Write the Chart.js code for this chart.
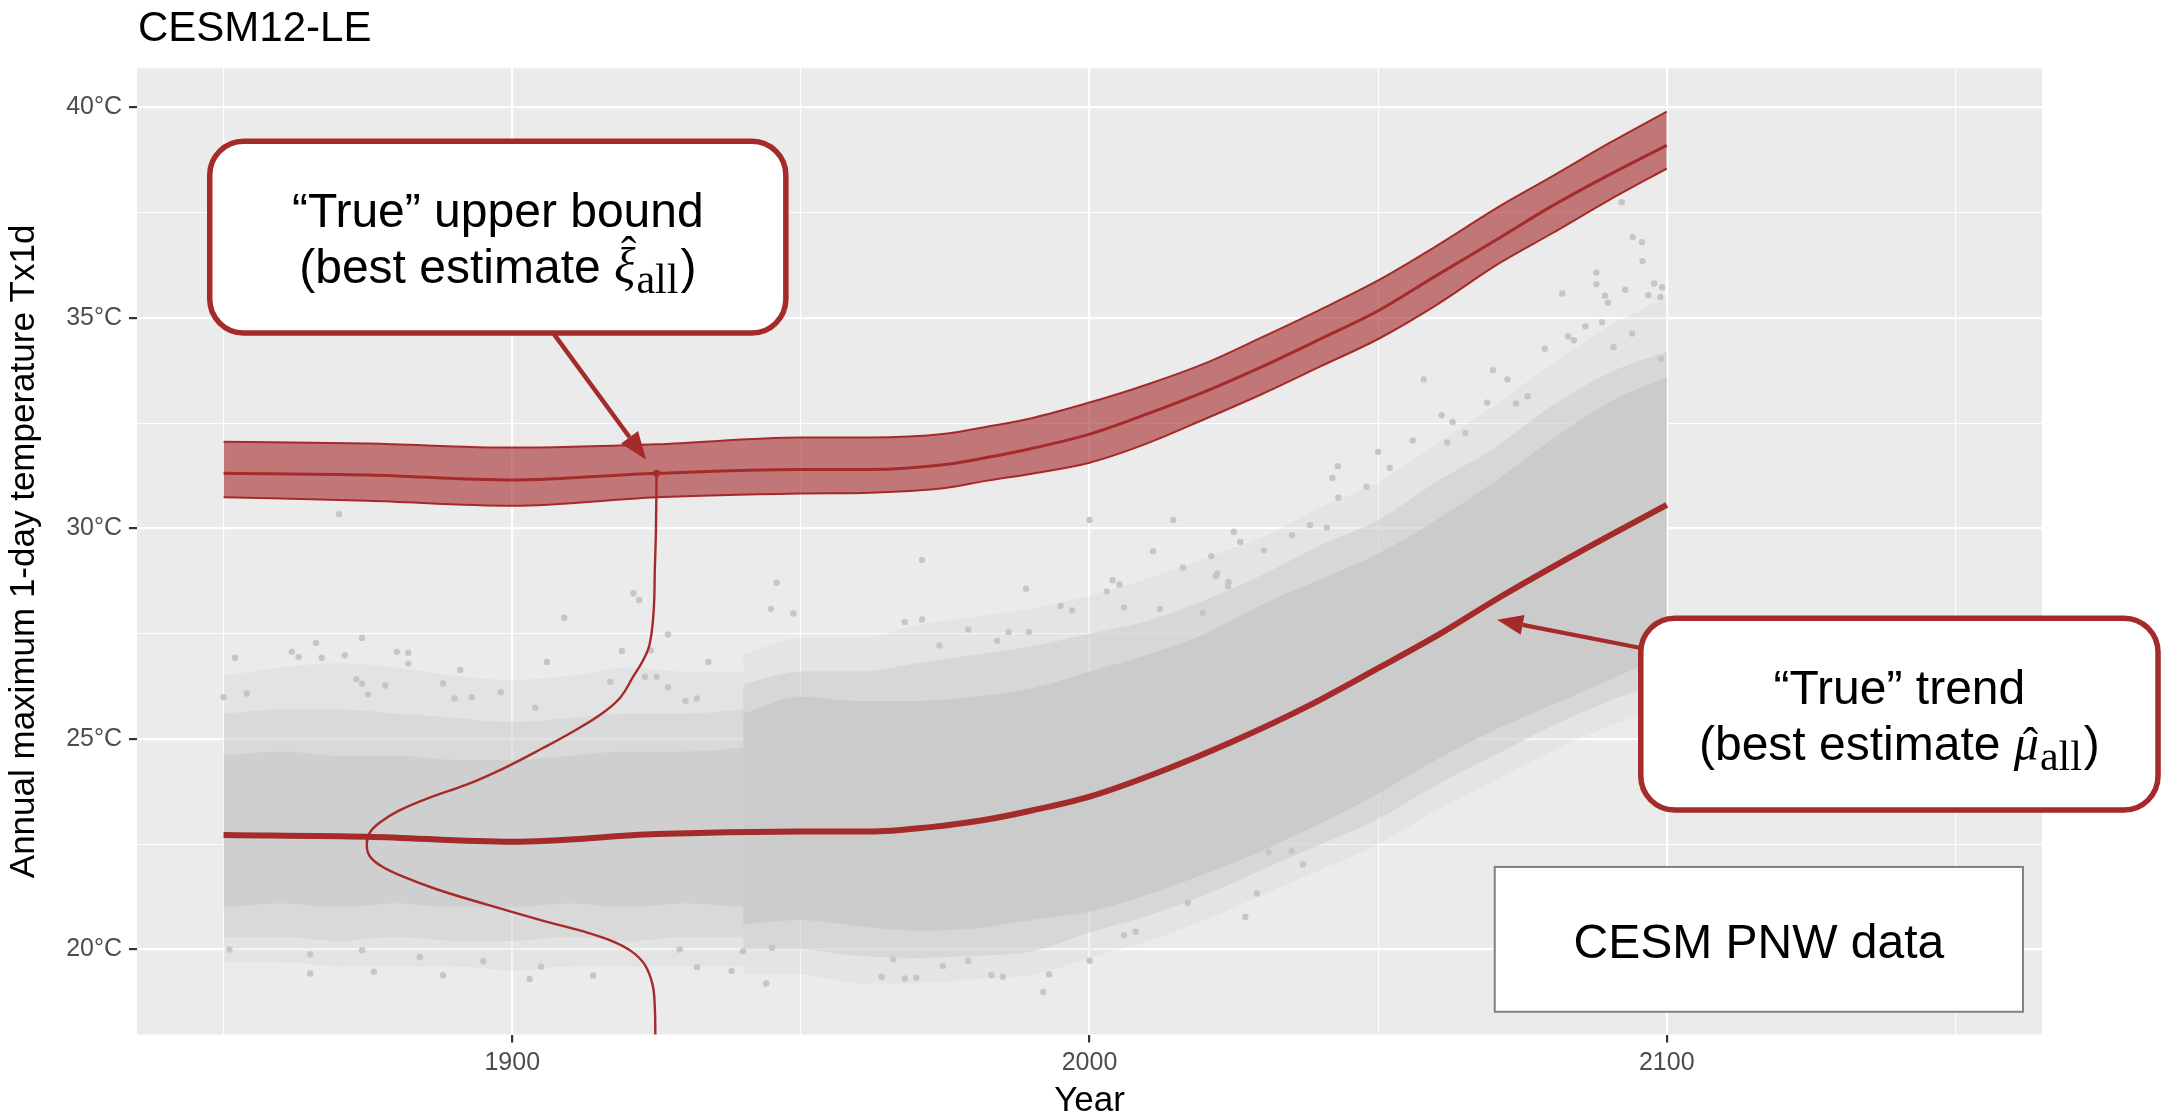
<!DOCTYPE html>
<html>
<head>
<meta charset="utf-8">
<script src="https://cdn.jsdelivr.net/npm/chart.js@4.4.1/dist/chart.umd.min.js"></script>
<style>
html, body { margin: 0; padding: 0; background: #ffffff; }
canvas { display: block; }
</style>
</head>
<body>
<canvas id="chart" width="2162" height="1116"></canvas>
<script>
// ---------------- data ----------------
const chartTitle = 'CESM12-LE';
const xAxisTitle = 'Year';
const yAxisTitle = 'Annual maximum 1-day temperature Tx1d';

const xTickValues = [1850, 1900, 1950, 2000, 2050, 2100, 2150];
const xTickLabels = ['', '1900', '', '2000', '', '2100', ''];
const yTickValues = [20, 22.5, 25, 27.5, 30, 32.5, 35, 37.5, 40];
const yTickLabels = ['20°C', '', '25°C', '', '30°C', '', '35°C', '', '40°C'];

// "True" upper bound (xi_all) with its uncertainty band
const boundYears  = [1850, 1875, 1900, 1925, 1950, 1962, 1975, 1982, 1990, 2000, 2010, 2020, 2030, 2040, 2050, 2060, 2071, 2080, 2090, 2100];
const boundCenter = [31.31, 31.27, 31.15, 31.31, 31.40, 31.40, 31.52, 31.68, 31.90, 32.24, 32.72, 33.25, 33.85, 34.50, 35.17, 36.00, 36.90, 37.65, 38.40, 39.10];
const boundLow    = [30.74, 30.66, 30.54, 30.74, 30.83, 30.85, 30.96, 31.13, 31.30, 31.56, 32.02, 32.60, 33.20, 33.85, 34.50, 35.30, 36.30, 37.00, 37.80, 38.55];
const boundHigh   = [32.06, 32.02, 31.92, 32.00, 32.16, 32.16, 32.25, 32.41, 32.62, 32.99, 33.42, 33.92, 34.55, 35.20, 35.89, 36.70, 37.65, 38.35, 39.15, 39.90];

// "True" trend (mu_all)
const trendYears  = [1850, 1875, 1900, 1925, 1950, 1962, 1972, 1982, 1990, 2000, 2012, 2025, 2038, 2050, 2061, 2071, 2085, 2100];
const trendValues = [22.72, 22.68, 22.56, 22.74, 22.80, 22.80, 22.90, 23.08, 23.30, 23.63, 24.21, 24.95, 25.79, 26.68, 27.52, 28.36, 29.45, 30.56];

// sideways density curve drawn at 1925
const densityYears = [1925.0, 1924.9, 1924.7, 1924.5, 1923.8, 1922.6, 1921.0, 1918.7, 1915.3, 1910.7, 1905.4, 1898.8, 1892.2, 1885.6, 1880.3, 1877.0, 1875.3, 1874.8, 1875.3, 1877.3, 1880.9, 1886.9, 1895.5, 1905.4, 1912.0, 1917.3, 1920.6, 1922.9, 1924.3, 1924.7, 1924.8];
const densityTemps = [31.31, 30.00, 29.00, 28.04, 27.25, 26.85, 26.49, 25.98, 25.58, 25.19, 24.79, 24.32, 23.92, 23.60, 23.29, 23.01, 22.77, 22.50, 22.22, 21.98, 21.74, 21.43, 21.07, 20.68, 20.44, 20.20, 19.96, 19.65, 19.17, 18.62, 17.90];

// CESM PNW data cloud: envelopes of the sparse (1850-1940) and dense (1940-2100) parts
const earlyYears      = [1850, 1860, 1870, 1880, 1890, 1900, 1910, 1920, 1930, 1940];
const earlyCoreLow    = [21.0, 21.1, 21.0, 21.1, 21.0, 21.0, 21.1, 21.0, 21.1, 21.0];
const earlyCoreHigh   = [24.6, 24.7, 24.6, 24.6, 24.5, 24.5, 24.6, 24.7, 24.7, 24.8];
const earlyFringeLow  = [20.3, 20.3, 20.2, 20.3, 20.2, 20.2, 20.3, 20.2, 20.3, 20.3];
const earlyFringeHigh = [25.6, 25.7, 25.7, 25.6, 25.5, 25.4, 25.5, 25.6, 25.6, 25.7];
const earlyOuterLow   = [19.7, 19.7, 19.6, 19.6, 19.6, 19.5, 19.6, 19.6, 19.6, 19.6];
const earlyOuterHigh  = [26.5, 26.7, 26.8, 26.7, 26.5, 26.4, 26.5, 26.7, 26.6, 26.6];

const mainYears      = [1940, 1950, 1960, 1970, 1980, 1990, 2000, 2010, 2020, 2030, 2040, 2050, 2060, 2070, 2080, 2090, 2100];
const mainCoreLow    = [20.6, 20.7, 20.55, 20.45, 20.5, 20.7, 20.9, 21.3, 21.8, 22.35, 23.0, 23.7, 24.5, 25.2, 25.8, 26.4, 27.0];
const mainCoreHigh   = [25.6, 26.0, 25.9, 25.9, 26.0, 26.2, 26.6, 27.0, 27.5, 28.2, 28.8, 29.4, 30.2, 31.1, 32.1, 33.0, 33.6];
const mainFringeLow  = [20.0, 20.0, 19.85, 19.8, 19.85, 19.95, 20.4, 20.8, 21.3, 21.9, 22.5, 23.1, 23.9, 24.6, 25.3, 25.9, 26.4];
const mainFringeHigh = [26.3, 26.6, 26.6, 26.8, 27.0, 27.2, 27.5, 27.8, 28.3, 28.9, 29.6, 30.2, 31.1, 31.9, 32.9, 33.7, 34.2];
const mainOuterLow   = [19.4, 19.4, 19.2, 19.2, 19.3, 19.4, 19.8, 20.2, 20.7, 21.3, 21.9, 22.5, 23.3, 24.0, 24.7, 25.3, 25.8];
const mainOuterHigh  = [27.0, 27.4, 27.4, 27.7, 27.9, 28.1, 28.4, 28.8, 29.3, 29.8, 30.5, 31.1, 32.0, 32.9, 33.9, 34.8, 35.5];

// individual outlying data points [year, temperature]
const scatterPoints = [
  [1852, 26.93], [1861.8, 27.07], [1863, 26.95], [1866, 27.28], [1867, 26.93], [1871, 26.99], [1874, 27.4], [1880, 27.07],
  [1882, 27.05], [1882, 26.79], [1891, 26.64], [1906, 26.83], [1909, 27.88], [1921, 28.46], [1922, 28.3], [1919, 27.09],
  [1927, 27.48], [1924, 27.1], [1934, 26.83], [1873, 26.42], [1874, 26.31], [1878, 26.27], [1875, 26.06], [1854, 26.08],
  [1850, 25.99], [1888, 26.32], [1890, 25.96], [1893, 25.99], [1898, 26.11], [1904, 25.74], [1917, 26.36], [1923, 26.48],
  [1925, 26.48], [1927, 26.23], [1932, 25.96], [1930, 25.9], [1870, 30.34],
  [1851, 20.0], [1865, 19.88], [1865, 19.43], [1876, 19.47], [1888, 19.39], [1895, 19.72], [1903, 19.3], [1905, 19.59],
  [1914, 19.38], [1932, 19.58], [1938, 19.49], [1884, 19.82], [1874, 19.98], [1929, 20.0],
  [1944.8, 28.09], [1945.8, 28.71], [1948.7, 27.98], [1944, 19.19], [1940, 19.96], [1945, 20.04],
  [1968, 27.78], [1971, 27.84], [1979, 27.6], [1989, 28.57], [1986, 27.54], [1989.5, 27.54], [1984, 27.33], [1974, 27.22],
  [1995, 28.16], [1997, 28.05], [2004, 28.77], [2003, 28.5], [2005.2, 28.67], [2016.2, 29.07], [2012.2, 28.09], [2006, 28.12],
  [2021.9, 28.87], [2024, 28.63], [2019.6, 28.0], [1971, 29.25], [2000, 30.2], [2014.5, 30.2], [2011, 29.46],
  [1964, 19.35], [1968, 19.31], [1970, 19.33], [1983, 19.39], [1985, 19.35], [1992, 18.99], [1993, 19.41], [2000, 19.73],
  [1979, 19.73], [1974.6, 19.61], [1966, 19.76], [2006, 20.34], [2008, 20.42], [2017, 21.11], [2027, 20.77], [2029, 21.33],
  [2037, 22.02], [2035, 22.34], [2031, 22.31],
  [2021.1, 29.34], [2025, 29.92], [2026.1, 29.68], [2030.2, 29.48], [2022.1, 28.93], [2024.1, 28.73], [2035.1, 29.84],
  [2038.2, 30.08], [2041.1, 30.02], [2042.1, 31.2], [2043, 31.48], [2043.1, 30.73], [2048, 30.99], [2050, 31.82], [2052, 31.44],
  [2056, 32.09], [2057.9, 33.54], [2062, 32.04], [2061, 32.69], [2062.9, 32.53], [2065.1, 32.27], [2068.9, 32.99], [2069.9, 33.76],
  [2072.4, 33.54], [2073.9, 32.97], [2075.9, 33.14], [2078.9, 34.27], [2081.9, 35.58], [2082.9, 34.56], [2083.9, 34.47],
  [2085.9, 34.8], [2087.8, 36.08], [2087.8, 35.8], [2088.8, 34.9], [2089.8, 35.36], [2090.8, 34.31], [2092.8, 35.67], [2094, 34.63],
  [2095.7, 36.8], [2095.8, 36.35], [2096.8, 35.54], [2097.8, 35.82], [2098.9, 35.5], [2099, 34.03], [2092.2, 37.75],
  [2094.1, 36.92], [2089.3, 35.53], [2099.2, 35.73]
];

// annotation texts
const boundLabel = ['“True” upper bound', '(best estimate ', 'ξ'];
const trendLabel = ['“True” trend', '(best estimate ', 'μ'];
const dataLabel = 'CESM PNW data';

// ---------------- styling / layout ----------------
const RED = '#A52A2A';
const SANS = '"Liberation Sans", Arial, Helvetica, sans-serif';
const SERIF = '"Liberation Serif", "Times New Roman", serif';
Chart.defaults.font.family = SANS;

// annotation geometry in data units (year, °C)
const notes = {
  bound: { x0: 1847.6, x1: 1947.4, yTop: 39.2, yBot: 34.64, from: [1907.1, 34.64], to: [1923.2, 31.63] },
  trend: { x0: 2095.5, x1: 2185.1, yTop: 27.87, yBot: 23.31, from: [2095.5, 27.16], to: [2070.6, 27.83] },
  data:  { x0: 2070.2, x1: 2161.7, yTop: 21.96, yBot: 18.52 }
};

const pts = (xs, ys) => xs.map((x, i) => ({ x: x, y: ys[i] }));
const isLabelled = (values, labels, v) => { const i = values.indexOf(v); return i >= 0 && labels[i] !== ''; };

function band(data, order, extra) {
  return Object.assign({
    type: 'line', data: data, order: order, pointRadius: 0, borderWidth: 0,
    borderColor: 'rgba(0,0,0,0)', fill: false, cubicInterpolationMode: 'monotone'
  }, extra || {});
}

const GREY = 'rgba(202,202,202,';
const datasets = [
  band(pts(earlyYears, earlyOuterLow), 120),                                              // 0
  band(pts(earlyYears, earlyOuterHigh), 119, { fill: 0, backgroundColor: GREY + '0.22)' }), // 1
  band(pts(earlyYears, earlyFringeLow), 118),                                             // 2
  band(pts(earlyYears, earlyFringeHigh), 117, { fill: 2, backgroundColor: GREY + '0.42)' }),// 3
  band(pts(earlyYears, earlyCoreLow), 116),                                               // 4
  band(pts(earlyYears, earlyCoreHigh), 115, { fill: 4, backgroundColor: GREY + '0.68)' }),  // 5
  band(pts(mainYears, mainOuterLow), 114),                                                // 6
  band(pts(mainYears, mainOuterHigh), 113, { fill: 6, backgroundColor: GREY + '0.2)' }),    // 7
  band(pts(mainYears, mainFringeLow), 112),                                               // 8
  band(pts(mainYears, mainFringeHigh), 111, { fill: 8, backgroundColor: GREY + '0.5)' }),   // 9
  band(pts(mainYears, mainCoreLow), 110),                                                 // 10
  band(pts(mainYears, mainCoreHigh), 109, { fill: 10, backgroundColor: '#CBCBCB' }),       // 11
  { type: 'line', order: 90, data: scatterPoints.map(p => ({ x: p[0], y: p[1] })), showLine: false,  // 12
    pointRadius: 3.2, pointBackgroundColor: '#C6C6C6', pointBorderWidth: 0, borderWidth: 0 },
  band(pts(boundYears, boundLow), 80, { borderColor: RED, borderWidth: 2 }),                         // 13
  band(pts(boundYears, boundHigh), 79, { borderColor: RED, borderWidth: 2, fill: 13,                  // 14
    backgroundColor: 'rgba(165,42,42,0.6)' }),
  band(pts(boundYears, boundCenter), 78, { borderColor: RED, borderWidth: 3 }),                      // 15
  { type: 'line', order: 70, data: pts(densityYears, densityTemps), borderColor: RED, borderWidth: 2.4, // 16
    tension: 0.4, fill: false, clip: 0,
    pointRadius: c => (c.dataIndex === 0 ? 3.5 : 0), pointBackgroundColor: RED, pointBorderWidth: 0 },
  band(pts(trendYears, trendValues), 60, { borderColor: RED, borderWidth: 6 })                       // 17
];

// ---------------- drawing helpers for title and annotations ----------------
function roundRectPath(ctx, x, y, w, h, r) {
  ctx.beginPath();
  ctx.moveTo(x + r, y);
  ctx.arcTo(x + w, y, x + w, y + h, r);
  ctx.arcTo(x + w, y + h, x, y + h, r);
  ctx.arcTo(x, y + h, x, y, r);
  ctx.arcTo(x, y, x + w, y, r);
  ctx.closePath();
}

function arrow(ctx, x1, y1, x2, y2, color, lw, headLen, headHalf) {
  const ang = Math.atan2(y2 - y1, x2 - x1);
  const bx = x2 - Math.cos(ang) * headLen, by = y2 - Math.sin(ang) * headLen;
  ctx.strokeStyle = color; ctx.lineWidth = lw; ctx.lineCap = 'butt';
  ctx.beginPath(); ctx.moveTo(x1, y1); ctx.lineTo(bx, by); ctx.stroke();
  ctx.fillStyle = color;
  ctx.beginPath();
  ctx.moveTo(x2, y2);
  ctx.lineTo(bx + Math.sin(ang) * headHalf, by - Math.cos(ang) * headHalf);
  ctx.lineTo(bx - Math.sin(ang) * headHalf, by + Math.cos(ang) * headHalf);
  ctx.closePath(); ctx.fill();
}

function mathLine(ctx, cx, baseline, prefix, sym, hatLift) {
  const fSans = '48px ' + SANS;
  const fSym = 'italic 50px ' + SERIF;
  const fSub = '42px ' + SERIF;
  ctx.font = fSans; const w1 = ctx.measureText(prefix).width; const w4 = ctx.measureText(')').width;
  ctx.font = fSym; const w2 = ctx.measureText(sym).width;
  ctx.font = fSub; const w3 = ctx.measureText('all').width;
  const total = w1 + w2 + 1 + w3 + 2 + w4;
  let x = cx - total / 2;
  ctx.textAlign = 'left'; ctx.textBaseline = 'alphabetic'; ctx.fillStyle = '#000';
  ctx.font = fSans; ctx.fillText(prefix, x, baseline); x += w1;
  ctx.font = fSym; ctx.fillText(sym, x, baseline);
  ctx.font = '46px ' + SERIF; ctx.textAlign = 'center';
  ctx.fillText('\u02C6', x + w2 / 2 + 4, baseline - hatLift);
  ctx.textAlign = 'left';
  x += w2 + 1;
  ctx.font = fSub; ctx.fillText('all', x, baseline + 10); x += w3 + 2;
  ctx.font = fSans; ctx.fillText(')', x, baseline);
}

const decorPlugin = {
  id: 'decor',
  beforeDraw(chart) {
    const { ctx, chartArea: a } = chart;
    ctx.save();
    ctx.fillStyle = '#EBEBEB';
    ctx.fillRect(a.left, a.top, a.right - a.left, a.bottom - a.top);
    ctx.restore();
  },
  afterDraw(chart) {
    const { ctx } = chart;
    const sx = chart.scales.x, sy = chart.scales.y;
    const X = v => sx.getPixelForValue(v), Y = v => sy.getPixelForValue(v);
    ctx.save();
    // title
    ctx.fillStyle = '#000'; ctx.font = '42px ' + SANS; ctx.textAlign = 'left'; ctx.textBaseline = 'alphabetic';
    ctx.fillText(chartTitle, chart.chartArea.left + 1, 41);

    // upper bound box
    let n = notes.bound;
    arrow(ctx, X(n.from[0]), Y(n.from[1]), X(n.to[0]), Y(n.to[1]), RED, 4.5, 28, 10.5);
    let bx = X(n.x0), by = Y(n.yTop), bw = X(n.x1) - bx, bh = Y(n.yBot) - by;
    roundRectPath(ctx, bx, by, bw, bh, 34);
    ctx.fillStyle = '#fff'; ctx.fill();
    ctx.strokeStyle = RED; ctx.lineWidth = 5.5; ctx.stroke();
    ctx.fillStyle = '#000'; ctx.font = '48px ' + SANS; ctx.textAlign = 'center';
    ctx.fillText(boundLabel[0], bx + bw / 2, by + 86);
    mathLine(ctx, bx + bw / 2, by + 142, boundLabel[1], boundLabel[2], 14);

    // trend box
    n = notes.trend;
    arrow(ctx, X(n.from[0]), Y(n.from[1]), X(n.to[0]), Y(n.to[1]), RED, 4.2, 26, 10);
    bx = X(n.x0); by = Y(n.yTop); bw = X(n.x1) - bx; bh = Y(n.yBot) - by;
    roundRectPath(ctx, bx, by, bw, bh, 34);
    ctx.fillStyle = '#fff'; ctx.fill();
    ctx.strokeStyle = RED; ctx.lineWidth = 5.5; ctx.stroke();
    ctx.fillStyle = '#000'; ctx.font = '48px ' + SANS; ctx.textAlign = 'center';
    ctx.fillText(trendLabel[0], bx + bw / 2, by + 86);
    mathLine(ctx, bx + bw / 2, by + 142, trendLabel[1], trendLabel[2], 0);

    // data box
    n = notes.data;
    bx = X(n.x0); by = Y(n.yTop); bw = X(n.x1) - bx; bh = Y(n.yBot) - by;
    ctx.fillStyle = '#fff'; ctx.fillRect(bx, by, bw, bh);
    ctx.strokeStyle = '#808080'; ctx.lineWidth = 2; ctx.strokeRect(bx, by, bw, bh);
    ctx.fillStyle = '#000'; ctx.font = '48px ' + SANS; ctx.textAlign = 'center';
    ctx.fillText(dataLabel, bx + bw / 2, by + 91);
    ctx.restore();
  }
};

// ---------------- chart ----------------
new Chart(document.getElementById('chart'), {
  type: 'line',
  data: { datasets: datasets },
  plugins: [decorPlugin],
  options: {
    responsive: false,
    animation: false,
    devicePixelRatio: 1,
    layout: { padding: { top: 68.3, right: 120, bottom: 0, left: 0 } },
    plugins: { legend: { display: false }, tooltip: { enabled: false }, title: { display: false } },
    scales: {
      x: {
        type: 'linear', min: 1835, max: 2165,
        afterBuildTicks: s => { s.ticks = xTickValues.map(v => ({ value: v })); },
        afterFit: s => { s.height = 81.5; },
        ticks: {
          autoSkip: false, maxRotation: 0, padding: 6, color: '#4D4D4D', font: { size: 25 },
          callback: v => { const i = xTickValues.indexOf(v); return i >= 0 ? xTickLabels[i] : ''; }
        },
        grid: {
          color: '#FFFFFF',
          lineWidth: c => (c.tick && isLabelled(xTickValues, xTickLabels, c.tick.value) ? 2.2 : 1.1),
          tickColor: c => (c.tick && isLabelled(xTickValues, xTickLabels, c.tick.value) ? '#333333' : 'rgba(0,0,0,0)'),
          tickLength: 8, tickWidth: 2.2
        },
        border: { display: false },
        title: { display: true, text: xAxisTitle, color: '#000', font: { size: 35, lineHeight: 0.86 }, padding: { top: 0, bottom: 0 } }
      },
      y: {
        type: 'linear', min: 17.98, max: 40.93,
        afterBuildTicks: s => { s.ticks = yTickValues.map(v => ({ value: v })); },
        afterFit: s => { s.width = 137; },
        ticks: {
          autoSkip: false, padding: 7, color: '#4D4D4D', font: { size: 25 },
          callback: v => { const i = yTickValues.indexOf(v); return i >= 0 ? yTickLabels[i] : ''; }
        },
        grid: {
          color: '#FFFFFF',
          lineWidth: c => (c.tick && isLabelled(yTickValues, yTickLabels, c.tick.value) ? 2.2 : 1.1),
          tickColor: c => (c.tick && isLabelled(yTickValues, yTickLabels, c.tick.value) ? '#333333' : 'rgba(0,0,0,0)'),
          tickLength: 8, tickWidth: 2.2
        },
        border: { display: false },
        title: { display: true, text: yAxisTitle, color: '#000', font: { size: 35, lineHeight: 1 }, padding: { top: 7, bottom: 0 } }
      }
    }
  }
});
</script>
</body>
</html>
